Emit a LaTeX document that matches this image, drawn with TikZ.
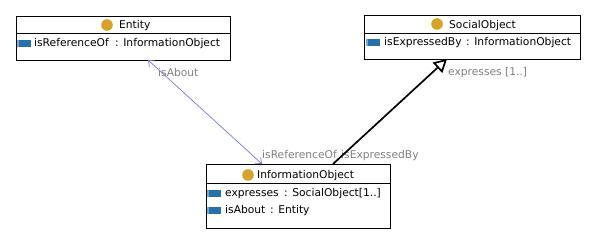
\documentclass[tikz,border=0pt]{standalone}
\usepackage{fontspec}
\setmainfont{DejaVu Sans}
\usetikzlibrary{arrows.meta}
\definecolor{attrblue}{RGB}{38,112,172}
\definecolor{attredge}{RGB}{120,170,210}
\definecolor{classgold}{RGB}{214,162,42}
\definecolor{assocblue}{RGB}{120,120,225}
\definecolor{rolegray}{RGB}{128,128,128}
\tikzset{
  classbox/.style={draw=black, line width=0.8pt, fill=white, anchor=north west, inner sep=0pt},
  txt/.style={anchor=base west, inner sep=0pt},
  rolelabel/.style={anchor=base west, inner sep=0pt, text=rolegray},
  assoc/.style={draw=assocblue, line width=0.7pt},
  subrel/.style={draw=black, line width=1.7pt}
}
\newcommand{\classicon}[1]{\fill[classgold] #1 circle (5.8);}
\newcommand{\attricon}[1]{\fill[attrblue] #1 rectangle ++(14,7); \fill[attredge] #1 rectangle ++(2,7);}
\begin{document}
\begin{tikzpicture}[x=1pt, y=-1pt, font=\fontsize{10.7}{12}\selectfont]
\useasboundingbox (0,0) rectangle (608,240);
\fill[white] (0,0) rectangle (608,240);

% Entity class
\node[classbox, minimum width=214pt, minimum height=44pt] (entity) at (16,16) {};
\draw[line width=0.8pt] (16,33) -- (230,33);
\classicon{(107,25)}
\node[txt] (entity-name) at (119,29) {Entity};
\attricon{(17,40)}
\node[txt] (entity-attr) at (34,46.5) {isReferenceOf};
\node[txt] (entity-type) at (115,46.5) {: InformationObject};

% SocialObject class
\node[classbox, minimum width=216pt, minimum height=44pt] (social) at (364,15) {};
\draw[line width=0.8pt] (364,33) -- (580,33);
\classicon{(437,24)}
\node[txt] (social-name) at (449,28.5) {SocialObject};
\attricon{(366,39)}
\node[txt] (social-attr) at (384,46) {isExpressedBy};
\node[txt] (social-type) at (466,46) {: InformationObject};

% InformationObject class
\node[classbox, minimum width=184pt, minimum height=64pt] (info) at (206,164) {};
\draw[line width=0.8pt] (206,183) -- (390,183);
\classicon{(248,175)}
\node[txt] (info-name) at (257,179) {InformationObject};
\attricon{(207,190)}
\node[txt] (info-attr1) at (225,196.5) {expresses};
\node[txt] (info-type1) at (284,196.5) {: SocialObject[1..]};
\attricon{(207,207)}
\node[txt] (info-attr2) at (225,214) {isAbout};
\node[txt] (info-type2) at (270,214) {: Entity};

% connector end points on the class borders
\coordinate (entity-foot) at (148,60);
\coordinate (info-headA) at (262,164);
\coordinate (info-headB) at (333,164);
\coordinate (social-foot) at (447,59);

% isAbout / isReferenceOf association
\draw[assoc, {Straight Barb[length=5pt,width=8pt]}-{Straight Barb[length=5pt,width=8pt]}] (entity-foot) -- (info-headA);
\node[rolelabel] (lbl-about) at (158,77) {isAbout};
\node[rolelabel] (lbl-refof) at (262,159) {isReferenceOf};
\node[rolelabel] (lbl-expby) at (341,159) {isExpressedBy};

% expresses relation
\draw[subrel, -{Triangle[open, length=13pt, width=14pt, line width=1.7pt]}] (info-headB) -- (social-foot);
\node[rolelabel] (lbl-expr) at (448,76) {expresses [1..]};
\end{tikzpicture}
\end{document}
